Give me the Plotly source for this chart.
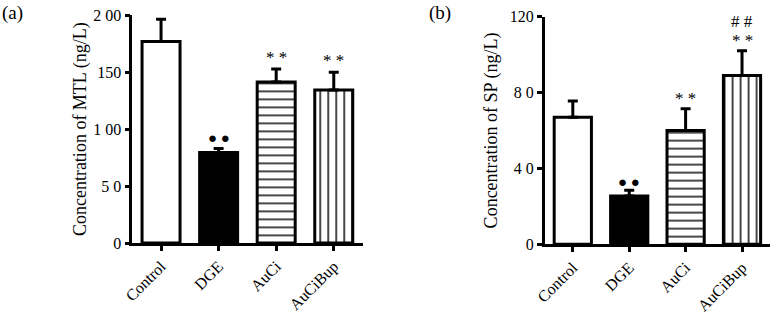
import plotly.graph_objects as go

categories = ["Control", "DGE", "AuCi", "AuCiBup"]
mtl_mean = [177, 79.5, 141.5, 134.5]
mtl_err_top = [196.5, 83, 153, 150]
sp_mean = [67, 25.5, 60, 89]
sp_err_top = [75.5, 28.5, 71.5, 102]

mtl_ticks = [0, 50, 100, 150, 200]
mtl_ticktext = ["0", "5 0", "1 00", "150", "2 00"]
sp_ticks = [0, 40, 80, 120]
sp_ticktext = ["0", "4 0", "8 0", "120"]

# annotation marks: (category, y, text)
mtl_marks = [("DGE", 92, "● ●"), ("AuCi", 163, "* *"), ("AuCiBup", 160, "* *")]
sp_marks = [("DGE", 33, "● ●"), ("AuCi", 77, "* *"), ("AuCiBup", 107.5, "* *"), ("AuCiBup", 117.5, "# #")]

FONT = "Liberation Serif"
fills = ["white", "black", "white", "white"]
shapes = ["", "", "-", "|"]

fig = go.Figure()

def add_panel(means, tops, xa, ya):
    for i, c in enumerate(categories):
        fig.add_trace(go.Bar(
            x=[c], y=[means[i]], xaxis=xa, yaxis=ya, width=0.66,
            marker=dict(color=fills[i], line=dict(color="black", width=3),
                        pattern=dict(shape=shapes[i], fgcolor="black", bgcolor="white",
                                     size=8, solidity=0.18) if shapes[i] else None),
            error_y=dict(type="data", symmetric=False, array=[tops[i] - means[i]],
                         arrayminus=[0], color="black", thickness=3, width=5),
            showlegend=False))

add_panel(mtl_mean, mtl_err_top, "x", "y")
add_panel(sp_mean, sp_err_top, "x2", "y2")

axis_common = dict(showline=True, linecolor="black", linewidth=2.5, ticks="outside",
                   ticklen=5, tickwidth=2.5, tickcolor="black", showgrid=False,
                   zeroline=False, automargin=False)
xfont = dict(family=FONT, size=16, color="black")
yfont = dict(family=FONT, size=16, color="black")
tfont = dict(family=FONT, size=18, color="black")

fig.update_layout(
    template="none",
    width=778, height=314, margin=dict(l=0, r=0, t=0, b=0),
    paper_bgcolor="white", plot_bgcolor="white", barmode="overlay",
    font=dict(family=FONT, color="black"),
    xaxis=dict(domain=[0.170, 0.466], range=[-0.5, 3.5], tickangle=-45, tickfont=xfont,
               categoryorder="array", categoryarray=categories, anchor="y", **axis_common),
    yaxis=dict(domain=[0.226, 0.951], range=[0, 200], tickvals=mtl_ticks, ticktext=mtl_ticktext,
               tickfont=yfont, anchor="x",
               title=dict(text="Concentration of MTL (ng/L)", font=tfont, standoff=3), **axis_common),
    xaxis2=dict(domain=[0.700, 0.990], range=[-0.5, 3.5], tickangle=-45, tickfont=xfont,
                categoryorder="array", categoryarray=categories, anchor="y2", **axis_common),
    yaxis2=dict(domain=[0.222, 0.947], range=[0, 120], tickvals=sp_ticks, ticktext=sp_ticktext,
                tickfont=yfont, anchor="x2",
                title=dict(text="Concentration of SP (ng/L)", font=tfont, standoff=8), **axis_common),
)

for c, yv, t in mtl_marks:
    fig.add_annotation(x=c, y=yv, xref="x", yref="y", text=t, showarrow=False,
                       font=dict(family=FONT, size=15 if t.startswith("●") else 17, color="black"))
for c, yv, t in sp_marks:
    fig.add_annotation(x=c, y=yv, xref="x2", yref="y2", text=t, showarrow=False,
                       font=dict(family=FONT, size=15 if t.startswith("●") else 17, color="black"))

fig.add_annotation(x=0.0, y=1.0, xref="paper", yref="paper", xanchor="left", yanchor="top",
                   text="(a)", showarrow=False, font=dict(family=FONT, size=19, color="black"))
fig.add_annotation(x=0.549, y=1.0, xref="paper", yref="paper", xanchor="left", yanchor="top",
                   text="(b)", showarrow=False, font=dict(family=FONT, size=19, color="black"))

fig.write_html("out.html", config={"displayModeBar": False},
               post_script="document.body.style.margin='0';document.body.style.overflow='hidden';")
